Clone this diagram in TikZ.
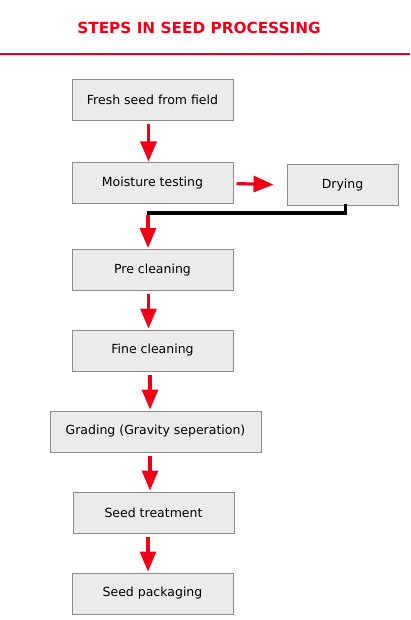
\documentclass[tikz,border=0pt]{standalone}
\usepackage{fontspec}
\setmainfont{DejaVu Sans}
\usetikzlibrary{arrows.meta}
\definecolor{seedred}{RGB}{240,0,24}
\definecolor{boxfill}{RGB}{235,235,235}
\definecolor{boxline}{RGB}{140,140,140}
\tikzset{
  seedbox/.style={draw=boxline, fill=boxfill, line width=1pt, rectangle, minimum width=161pt, minimum height=41pt, inner sep=2pt, font=\fontsize{12.5}{14}\selectfont},
  flow/.style={-{Triangle[width=16pt,length=20pt]}, draw=seedred, fill=seedred, line width=3.2pt, shorten <=3pt, shorten >=1pt}
}
\begin{document}
\begin{tikzpicture}[x=1pt,y=-1pt]
\useasboundingbox (0,0) rectangle (410,620);
\node[text=seedred, font=\bfseries\fontsize{15.3}{17}\selectfont] (title) at (199,28) {STEPS IN SEED PROCESSING};
% rule under the title
\coordinate (ruleL) at (0,54);
\coordinate (ruleR) at (410,54);
\draw[seedred, line width=2pt] (ruleL) -- (ruleR);
\node[seedbox] (fresh) at (152.5,100) {Fresh seed from field};
\node[seedbox] (moist) at (152.5,183.5) {Moisture testing};
\node[seedbox, minimum width=111pt] (dry) at (342.5,185) {Drying};
\node[seedbox] (pre) at (152.5,270) {Pre cleaning};
\node[seedbox] (fine) at (152.5,350.5) {Fine cleaning};
\node[seedbox, minimum width=211pt] (grade) at (155.5,431.5) {Grading (Gravity seperation)};
\node[seedbox] (treat) at (153.5,512.5) {Seed treatment};
\node[seedbox] (pack) at (152.5,593.5) {Seed packaging};
\coordinate (join) at (148,213);
\draw[flow] ([xshift=-4pt]fresh.south) -- ([xshift=-4pt]moist.north);
\draw[flow, shorten >=13pt] (moist.east) -- (dry.west);
\draw[line width=3pt, line cap=rect] ([xshift=2.5pt]dry.south) |- (join);
\draw[flow, shorten <=2pt] (join) -- (join |- pre.north);
\draw[flow] ([xshift=-4pt]pre.south) -- ([xshift=-4pt]fine.north);
\draw[flow] (fine.south -| 150,0) -- (grade.north -| 150,0);
\draw[flow] ([xshift=-5.5pt]grade.south) -- ([xshift=-5.5pt]grade.south |- treat.north);
\draw[flow] ([xshift=-5.5pt]treat.south) -- ([xshift=-5.5pt]treat.south |- pack.north);
\end{tikzpicture}
\end{document}
